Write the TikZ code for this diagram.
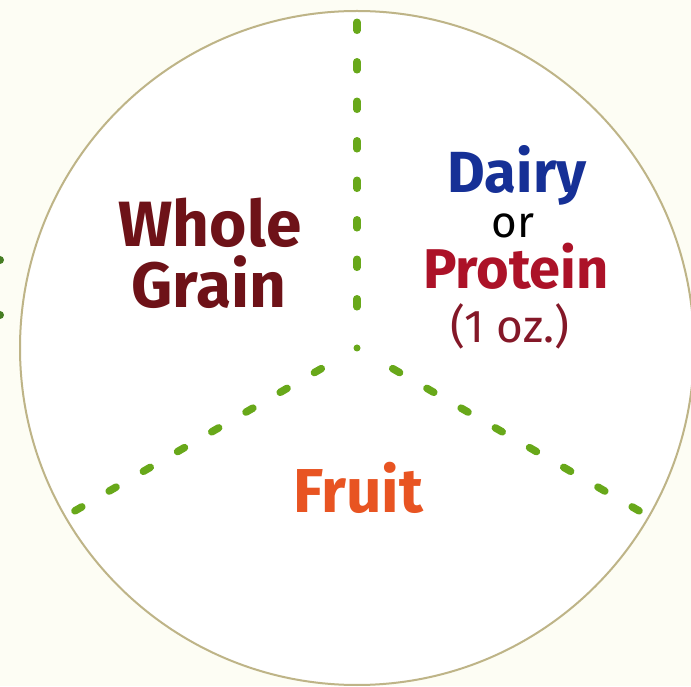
\documentclass[tikz,border=0pt]{standalone}
\usepackage{fontspec}
\setmainfont{Fira Sans}
\usepackage{tikz}
\usetikzlibrary{positioning}
\definecolor{mygreen}{RGB}{104,168,26}
\definecolor{myleaf}{RGB}{70,125,35}
\definecolor{myrim}{RGB}{190,180,135}
\definecolor{mycream}{RGB}{253,253,244}
\definecolor{mymaroon}{RGB}{110,18,24}
\definecolor{myblue}{RGB}{22,48,150}
\definecolor{myred}{RGB}{172,18,40}
\definecolor{mydarkred}{RGB}{132,24,40}
\definecolor{myorange}{RGB}{232,84,34}
\tikzset{
  plate/.style={draw=myrim, fill=white, line width=2pt},
  hub/.style={circle, fill=mygreen, inner sep=0pt, minimum size=7pt},
  divider/.style={mygreen, line width=7.5pt, line cap=round,
    dash pattern=on 8pt off 31.5pt, shorten <=37.5pt},
  bigword/.style={anchor=base, inner sep=0pt, font=\bfseries\fontsize{64}{64}\selectfont},
  smallword/.style={anchor=base, inner sep=0pt, font=\fontsize{44}{44}\selectfont}
}

\begin{document}
\begin{tikzpicture}[x=1pt, y=1pt]
  \useasboundingbox (0,0) rectangle (691,686);
  \fill[mycream] (0,0) rectangle (691,686);
  \fill[myleaf] (0,426) circle (4pt) (0,371) circle (4pt);
  \draw[plate] (357,338) circle (337pt);
  % the three dividers
  \node[hub] (hub) at (357,338) {};
  \coordinate (rimtop) at ([shift={(90:330pt)}]hub.center);
  \coordinate (rimleft) at ([shift={(210:330pt)}]hub.center);
  \coordinate (rimright) at ([shift={(330:330pt)}]hub.center);
  \draw[divider] (hub) -- (rimtop);
  \draw[divider] (hub) -- (rimleft);
  \draw[divider] (hub) -- (rimright);
  % labels
  \node[bigword, mymaroon] (whole) at (210,439) {Whole};
  \node[bigword, mymaroon] (grain) at (209,378) {Grain};
  \node[bigword, myblue, font=\bfseries\fontsize{58}{58}\selectfont] (dairy) at (517,493) {Dairy};
  \node[smallword, black] (or) at (513,448) {or};
  \node[bigword, myred, font=\bfseries\fontsize{56}{56}\selectfont] (protein) at (516,397) {Protein};
  \node[smallword, mydarkred, font=\fontsize{46}{46}\selectfont] (oz) at (510,343) {(1 oz.)};
  \node[bigword, myorange, font=\bfseries\fontsize{62}{62}\selectfont] (fruit) at (358,173) {Fruit};
\end{tikzpicture}
\end{document}
